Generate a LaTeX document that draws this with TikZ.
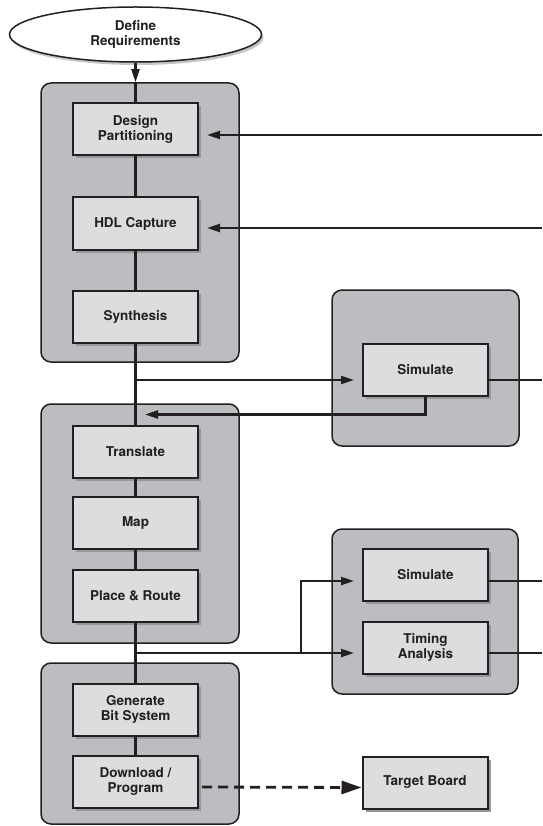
\documentclass[tikz,border=0pt]{standalone}
\usepackage{fontspec}
\setmainfont{TeX Gyre Heros}
\usetikzlibrary{arrows.meta,shadows,shapes.geometric,calc}
\definecolor{ink}{HTML}{231F20}
\definecolor{groupfill}{HTML}{BCBDC0}
\definecolor{boxfill}{HTML}{DCDDDF}
\definecolor{shadowgray}{HTML}{96979A}
\begin{document}
\begin{tikzpicture}[x=1pt,y=-1pt,
  font=\fontsize{13.5}{15}\selectfont\bfseries, text=ink,
  group/.style={draw=ink, line width=1.5pt, fill=groupfill, rounded corners=10pt, inner sep=0pt},
  stage/.style={draw=ink, line width=2pt, fill=boxfill, minimum width=125pt, minimum height=52pt,
    align=center, inner sep=0pt,
    drop shadow={shadow xshift=3pt, shadow yshift=-3pt, fill=shadowgray, opacity=1}},
  link/.style={draw=ink, line width=2.2pt},
  arr/.style={link, -{Triangle[length=13pt,width=8pt]}},
  bigarr/.style={draw=ink, line width=2.8pt, dash pattern=on 10pt off 6pt,
    -{Triangle[length=20pt,width=13pt]}},
]
\useasboundingbox (0,0) rectangle (542,826);

% phase containers
\node[group, minimum width=198pt, minimum height=279pt] (g1) at (140,222.5) {};
\node[group, minimum width=198pt, minimum height=239pt] (g2) at (140,523.5) {};
\node[group, minimum width=198pt, minimum height=161pt] (g5) at (140,743.5) {};
\node[group, minimum width=187pt, minimum height=156pt] (g3) at (425.5,368) {};
\node[group, minimum width=186pt, minimum height=165pt] (g4) at (425,611.5) {};

% start
\node[ellipse, draw=ink, line width=1.5pt, fill=white, minimum width=252pt, minimum height=55pt,
  inner sep=0pt, align=center,
  drop shadow={shadow xshift=2pt, shadow yshift=-3pt, fill=gray!45, opacity=1}]
  (req) at (135.5,34.5) {Define\\Requirements};

% design stages
\node[stage] (dp)  at (135.5,129.5) {Design\\Partitioning};
\node[stage] (hdl) at (135.5,223.5) {HDL Capture};
\node[stage] (syn) at (135.5,316.5) {Synthesis};
\node[stage] (tr)  at (135.5,451.5) {Translate};
\node[stage] (map) at (135.5,523)   {Map};
\node[stage] (pr)  at (135.5,596)   {Place \& Route};
\node[stage] (gen) at (135.5,709.5) {Generate\\Bit System};
\node[stage] (dl)  at (135.5,782)   {Download /\\Program};

% verification stages
\node[stage] (sim1)   at (425.5,370)   {Simulate};
\node[stage] (sim2)   at (425.5,575)   {Simulate};
\node[stage] (timing) at (425.5,647.5) {Timing\\Analysis};
\node[stage] (tb)     at (425,782.5)   {Target Board};

% helper points
\coordinate (edge) at (542,0);
\coordinate (inDP)  at (542,135);
\coordinate (inHDL) at (542,228);
\coordinate (tapA)  at (135.5,380);
\coordinate (ret)   at (145,414.5);
\coordinate (tapB)  at (135.5,653);
\coordinate (fork)  at (301,653);
\coordinate (sim2in) at ($(sim2.west)+(0,6)$);

% main flow
\draw[arr] (req.south) -- (req.south |- g1.north);
\draw[link] (req.south |- g1.north) -- (dp.north);
\draw[link] (dp) -- (hdl);
\draw[link] (hdl) -- (syn);
\draw[link] (syn) -- (tr);
\draw[link] (tr) -- (map);
\draw[link] (map) -- (pr);
\draw[link] (pr) -- (gen);
\draw[link] (gen) -- (dl);

% feedback into design entry
\draw[arr, shorten >=8pt] (inDP) -- (inDP -| dp.east);
\draw[arr, shorten >=8pt] (inHDL) -- (inHDL -| hdl.east);

% functional simulation
\draw[arr, shorten >=8pt] (tapA) -- (tapA -| sim1.west);
\draw[arr] (sim1.south) |- (ret);
\draw[link] (tapA -| sim1.east) -- (tapA -| edge);

% post-layout verification
\draw[arr, shorten >=8pt] (tapB) -- (tapB -| timing.west);
\draw[arr, shorten >=8pt] (fork) |- (sim2in);
\draw[link] (sim2in -| sim2.east) -- (sim2in -| edge);
\draw[link] (tapB -| timing.east) -- (tapB -| edge);

% programming the board
\draw[bigarr] ($(dl.east)+(3,5)$) -- ($(tb.west)+(0,5)$);
\end{tikzpicture}
\end{document}
